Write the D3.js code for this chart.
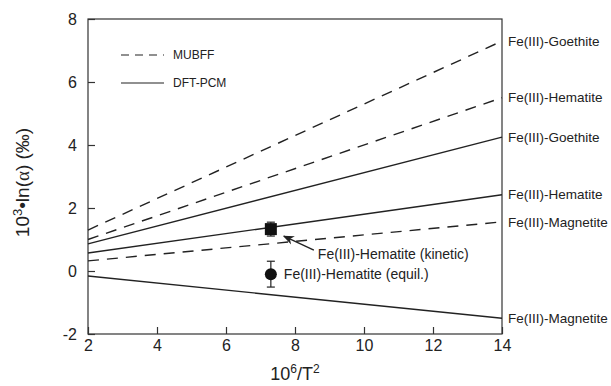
<!DOCTYPE html>
<html>
<head>
<meta charset="utf-8">
<script src="https://cdn.jsdelivr.net/npm/d3@7"></script>
<style>
  body { margin: 0; background: #fff; }
  text { font-family: "Liberation Sans", Arial, sans-serif; fill: #222; }
</style>
</head>
<body>
<div id="chart"></div>
<script>
// fractionation lines: value at x=2 and x=14
const xEnds = [2, 14];
const mubffNames = ["Fe(III)-Goethite", "Fe(III)-Hematite", "Fe(III)-Magnetite"];
const mubffStart = [1.3, 1.0, 0.32];
const mubffEnd = [7.3, 5.5, 1.56];
const dftNames = ["Fe(III)-Goethite", "Fe(III)-Hematite", "Fe(III)-Magnetite"];
const dftStart = [0.86, 0.57, -0.16];
const dftEnd = [4.25, 2.42, -1.5];

// measured points
const pointNames = ["Fe(III)-Hematite (kinetic)", "Fe(III)-Hematite (equil.)"];
const pointX = [7.3, 7.3];
const pointY = [1.33, -0.1];
const pointErr = [0.22, 0.41];

const xTicks = [2, 4, 6, 8, 10, 12, 14];
const yTicks = [-2, 0, 2, 4, 6, 8];

const margin = {top: 19, right: 109, bottom: 52, left: 88},
    width = 611 - margin.left - margin.right,
    height = 386 - margin.top - margin.bottom;

const svg = d3.select("#chart")
    .append("svg")
    .attr("width", 611)
    .attr("height", 386);

const g = svg.append("g")
    .attr("transform", `translate(${margin.left}, ${margin.top})`);

const x = d3.scaleLinear().domain([2, 14]).range([0, width]);
const y = d3.scaleLinear().domain([-2, 8]).range([height, 0]);

// frame
g.append("rect")
    .attr("width", width).attr("height", height)
    .attr("fill", "none").attr("stroke", "#333").attr("stroke-width", 1.2);

// axes with inward ticks
const xAxis = g.append("g")
    .attr("transform", `translate(0, ${height})`)
    .call(d3.axisBottom(x).tickValues(xTicks).tickFormat(d => String(d)).tickSize(-7).tickPadding(6));
const yAxis = g.append("g")
    .call(d3.axisLeft(y).tickValues(yTicks).tickFormat(d => String(d)).tickSize(-7).tickPadding(11));
[xAxis, yAxis].forEach(a => {
    a.select(".domain").remove();
    a.selectAll("line").attr("stroke", "#333").attr("stroke-width", 1.2);
    a.selectAll("text").style("font-size", "16px").attr("fill", "#222");
});

const lineGen = d3.line().x(d => x(d[0])).y(d => y(d[1]));

function drawSet(names, starts, ends, dash) {
    names.forEach((name, i) => {
        g.append("path")
            .datum([[xEnds[0], starts[i]], [xEnds[1], ends[i]]])
            .attr("fill", "none")
            .attr("stroke", "#222")
            .attr("stroke-width", 1.4)
            .attr("stroke-dasharray", dash)
            .attr("d", lineGen);
        g.append("text")
            .attr("x", width + 6)
            .attr("y", y(ends[i]))
            .attr("dy", "0.35em")
            .style("font-size", "13.5px")
            .text(name);
    });
}
drawSet(mubffNames, mubffStart, mubffEnd, "11,8");
drawSet(dftNames, dftStart, dftEnd, null);

// legend
const legend = [["MUBFF", "8,6"], ["DFT-PCM", null]];
legend.forEach((d, i) => {
    const ly = 36 + i * 28;
    g.append("line")
        .attr("x1", 33).attr("x2", 76).attr("y1", ly).attr("y2", ly)
        .attr("stroke", "#222").attr("stroke-width", 1.2)
        .attr("stroke-dasharray", d[1]);
    g.append("text")
        .attr("x", 85).attr("y", ly).attr("dy", "0.35em")
        .style("font-size", "12px").text(d[0]);
});

// error bars and markers
pointX.forEach((px, i) => {
    const cx = x(px);
    g.append("line")
        .attr("x1", cx).attr("x2", cx)
        .attr("y1", y(pointY[i] + pointErr[i])).attr("y2", y(pointY[i] - pointErr[i]))
        .attr("stroke", "#222").attr("stroke-width", 1.2);
    [pointErr[i], -pointErr[i]].forEach(e => {
        g.append("line")
            .attr("x1", cx - 4).attr("x2", cx + 4)
            .attr("y1", y(pointY[i] + e)).attr("y2", y(pointY[i] + e))
            .attr("stroke", "#222").attr("stroke-width", 1.2);
    });
});
g.append("rect")
    .attr("x", x(pointX[0]) - 6).attr("y", y(pointY[0]) - 6)
    .attr("width", 12).attr("height", 12).attr("fill", "#111");
g.append("circle")
    .attr("cx", x(pointX[1])).attr("cy", y(pointY[1])).attr("r", 6).attr("fill", "#111");

// annotations
svg.append("defs").append("marker")
    .attr("id", "arrow").attr("viewBox", "0 0 10 10")
    .attr("refX", 9).attr("refY", 5)
    .attr("markerWidth", 8).attr("markerHeight", 8)
    .attr("orient", "auto")
    .append("path").attr("d", "M0,1 L10,5 L0,9 L3,5 Z").attr("fill", "#222");
g.append("line")
    .attr("x1", x(pointX[0]) + 43).attr("y1", y(pointY[0]) + 21)
    .attr("x2", x(pointX[0]) + 13).attr("y2", y(pointY[0]) + 7)
    .attr("stroke", "#222").attr("stroke-width", 1.4)
    .attr("marker-end", "url(#arrow)");
g.append("text")
    .attr("x", x(pointX[0]) + 47).attr("y", y(pointY[0]) + 25)
    .attr("dy", "0.35em").style("font-size", "14px").text(pointNames[0]);
g.append("text")
    .attr("x", x(pointX[1]) + 13).attr("y", y(pointY[1]))
    .attr("dy", "0.35em").style("font-size", "14px").text(pointNames[1]);

// axis titles
svg.append("text")
    .attr("x", margin.left + width / 2).attr("y", 380)
    .attr("text-anchor", "middle").style("font-size", "18px")
    .html('10<tspan dy="-7" font-size="12px">6</tspan><tspan dy="7">/T</tspan><tspan dy="-7" font-size="12px">2</tspan>');
svg.append("text")
    .attr("transform", `translate(29, ${margin.top + height / 2 + 6}) rotate(-90)`)
    .attr("text-anchor", "middle").style("font-size", "19px")
    .html('10<tspan dy="-7" font-size="13px">3</tspan><tspan dy="7">•ln(</tspan><tspan font-family="Liberation Serif, serif">α</tspan>) (‰)');
</script>
</body>
</html>
